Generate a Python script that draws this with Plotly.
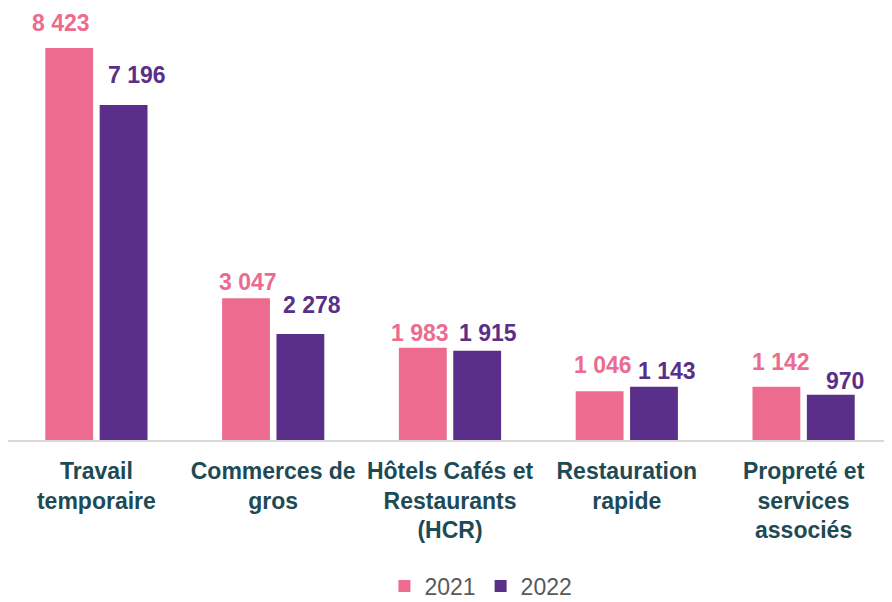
import plotly.graph_objects as go

categories = ["Travail<br>temporaire", "Commerces de<br>gros", "Hôtels Cafés et<br>Restaurants<br>(HCR)",
              "Restauration<br>rapide", "Propreté et<br>services<br>associés"]
series_names = ["2021", "2022"]
values_2021 = [8423, 3047, 1983, 1046, 1142]
values_2022 = [7196, 2278, 1915, 1143, 970]

PINK = "#EC6B8E"
PURPLE = "#5A2F89"
TEAL = "#1E4A55"
LABEL_FONT = "Liberation Sans, Arial"

# label placement nudges (pixels), style only
dx_2021 = [-35, -25, -30, -24, -23]
dx_2022 = [41, 39, 38, 40, 41]
dy_2021 = [10, 1, 0, 11, 10]
dy_2022 = [15, 14, 3, 1, -1]

def fmt(v):
    return f"{v:,}".replace(",", " ")

fig = go.Figure()
fig.add_trace(go.Bar(name=series_names[0], x=categories, y=values_2021, marker_color=PINK,
                     offsetgroup="a"))
fig.add_trace(go.Bar(name=series_names[1], x=categories, y=values_2022, marker_color=PURPLE,
                     offsetgroup="b"))

annotations = []
for i, c in enumerate(categories):
    annotations.append(dict(x=c, y=values_2021[i], xref="x", yref="y", text=fmt(values_2021[i]),
                            showarrow=False, yanchor="bottom", xanchor="center",
                            xshift=dx_2021[i], yshift=dy_2021[i],
                            font=dict(family=LABEL_FONT, size=23, color=PINK, weight="bold")))
    annotations.append(dict(x=c, y=values_2022[i], xref="x", yref="y", text=fmt(values_2022[i]),
                            showarrow=False, yanchor="bottom", xanchor="center",
                            xshift=dx_2022[i], yshift=dy_2022[i],
                            font=dict(family=LABEL_FONT, size=23, color=PURPLE, weight="bold")))

fig.update_layout(
    template="none",
    width=884, height=594,
    margin=dict(l=0, r=0, t=0, b=162, autoexpand=False),
    paper_bgcolor="white", plot_bgcolor="white",
    barmode="group", bargap=0.385, bargroupgap=0.12,
    font=dict(family=LABEL_FONT),
    annotations=annotations,
    showlegend=True,
    legend=dict(orientation="h", x=0.535, xanchor="center", y=-0.338, yanchor="middle",
                font=dict(size=23, color="#595959"), itemwidth=30, traceorder="normal",
                bgcolor="rgba(0,0,0,0)"),
    xaxis=dict(showline=True, linecolor="#D9D9D9", linewidth=2, showgrid=False, ticks="",
               automargin=False, ticklabelstandoff=9,
               tickfont=dict(size=23, color=TEAL, family=LABEL_FONT, weight="bold")),
    yaxis=dict(range=[0, 9282], visible=False, showgrid=False, zeroline=False, automargin=False),
)

fig.write_html("out.html")
